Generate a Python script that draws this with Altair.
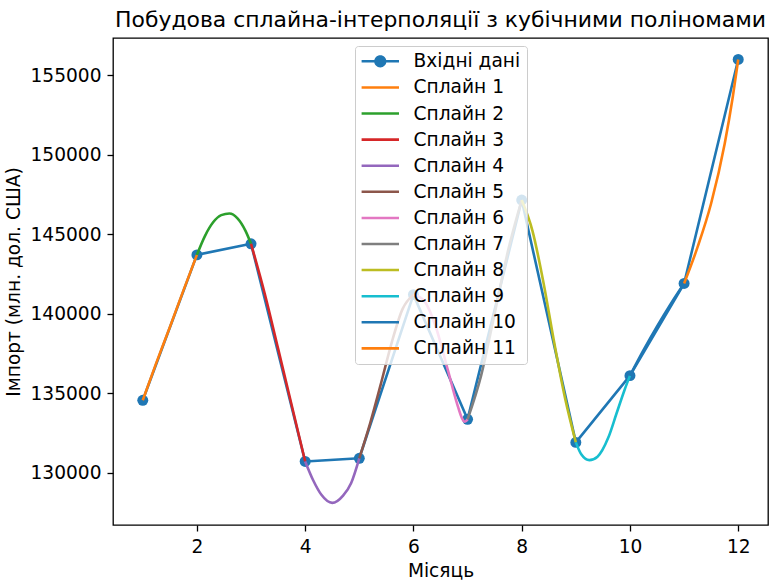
import altair as alt
import pandas as pd

# Monthly import values (input data)
months = [1, 2, 3, 4, 5, 6, 7, 8, 9, 10, 11, 12]
imports = [134550, 143700, 144400, 130700, 130900, 141200,
           133350, 147150, 131900, 136100, 141900, 156000]

# Sampled points along each cubic spline segment (one list per segment)
spline_x = [
    [1, 1.25, 1.5, 1.75, 2],
    [2, 2.15, 2.3, 2.45, 2.6, 2.75, 2.9, 3],
    [3, 3.25, 3.5, 3.75, 4],
    [4, 4.15, 4.3, 4.5, 4.7, 4.85, 5],
    [5, 5.2, 5.4, 5.6, 5.8, 6],
    [6, 6.2, 6.4, 6.64, 6.8, 6.9, 6.95, 7],
    [7, 7.25, 7.5, 7.75, 8],
    [8, 8.2, 8.4, 8.6, 8.8, 9],
    [9, 9.1, 9.25, 9.4, 9.6, 9.75, 9.9, 10],
    [10, 10.25, 10.5, 10.75, 11],
    [11, 11.25, 11.5, 11.75, 11.9, 12],
]
spline_y = [
    [134550, 136900, 139150, 141450, 143700],
    [143700, 144900, 145750, 146200, 146300, 146000, 145200, 144400],
    [144400, 141300, 137800, 134250, 130700],
    [130700, 129500, 128600, 128090, 128550, 129350, 130900],
    [130900, 133100, 135600, 138200, 140300, 141200],
    [141200, 140800, 139300, 136400, 134400, 133400, 133200, 133350],
    [133350, 136100, 140000, 144000, 147150],
    [147150, 145200, 142000, 138200, 134700, 131900],
    [131900, 131150, 130780, 131000, 132200, 133700, 135200, 136100],
    [136100, 137700, 139200, 140600, 141900],
    [141900, 144200, 146950, 150700, 153650, 156000],
]

data_color = "#1f77b4"
spline_colors = ["#ff7f0e", "#2ca02c", "#d62728", "#9467bd", "#8c564b", "#e377c2",
                 "#7f7f7f", "#bcbd22", "#17becf", "#1f77b4", "#ff7f0e"]
data_label = "Вхідні дані"
spline_labels = [f"Сплайн {i}" for i in range(1, 12)]

y_ticks = [130000, 135000, 140000, 145000, 150000, 155000]
x_ticks = [2, 4, 6, 8, 10, 12]

FONT = "DejaVu Sans"
FS = 18.6
LW = 2.6

x_enc = alt.X("month:Q",
              scale=alt.Scale(domain=[0.45, 12.55], nice=False, zero=False),
              axis=alt.Axis(values=x_ticks, format="d", title="Місяць"))
y_enc = alt.Y("value:Q",
              scale=alt.Scale(domain=[126700, 157350], nice=False, zero=False),
              axis=alt.Axis(values=y_ticks, format="d", title="Імпорт (млн. дол. США)"))

base_df = pd.DataFrame({"month": months, "value": imports})

layers = [
    alt.Chart(base_df).mark_line(color=data_color, strokeWidth=LW, strokeJoin="round")
    .encode(x=x_enc, y=y_enc),
    alt.Chart(base_df).mark_point(filled=True, color=data_color, size=120, opacity=1)
    .encode(x=x_enc, y=y_enc),
]

for xs, ys, col in zip(spline_x, spline_y, spline_colors):
    seg = pd.DataFrame({"month": xs, "value": ys})
    layers.append(
        alt.Chart(seg).mark_line(color=col, strokeWidth=LW, interpolate="monotone",
                                 strokeJoin="round")
        .encode(x=x_enc, y=y_enc)
    )

# Legend: line-with-marker symbol for the data, plain line symbols for the splines
line_sym = "M-2.2,-0.15H2.2V0.15H-2.2Z"
dot_sym = ("M-2.2,-0.15H2.2V0.15H-2.2Z "
           "M0.72,0A0.72,0.72 0 1 1 -0.72,0A0.72,0.72 0 1 1 0.72,0Z")
legend_names = [data_label] + spline_labels
legend_colors = [data_color] + spline_colors
legend_shapes = [dot_sym] + [line_sym] * len(spline_labels)

legend_spec = alt.Legend(
    title=None, orient="none", legendX=242, legendY=8,
    labelFont=FONT, labelFontSize=FS, labelColor="black",
    fillColor="rgba(255,255,255,0.8)", strokeColor="#cccccc",
    padding=6, rowPadding=7.1,
    symbolSize=289, symbolOffset=10, labelOffset=24, symbolStrokeWidth=0,
    symbolOpacity=1,
)

legend_df = pd.DataFrame({"label": legend_names})
legend_layer = (
    alt.Chart(legend_df)
    .transform_filter("false")
    .mark_point(filled=True, size=289, opacity=1)
    .encode(
        color=alt.Color("label:N", scale=alt.Scale(domain=legend_names, range=legend_colors),
                        legend=legend_spec),
        shape=alt.Shape("label:N", scale=alt.Scale(domain=legend_names, range=legend_shapes),
                        legend=legend_spec),
    )
)
layers.append(legend_layer)

chart = (
    alt.layer(*layers)
    .properties(
        width=655, height=487,
        autosize=alt.AutoSizeParams(type="none"),
        padding={"left": 113, "top": 38, "right": 3, "bottom": 56},
        title=alt.TitleParams(
            "Побудова сплайна-інтерполяції з кубічними поліномами",
            font=FONT, fontSize=21.9, fontWeight="normal", color="black",
            anchor="middle", baseline="alphabetic", offset=-11,
        ),
    )
    .configure_view(stroke="black", strokeWidth=1.3)
    .configure_axis(
        grid=False, domain=False,
        labelFont=FONT, labelFontSize=FS, labelColor="black", labelPadding=6,
        tickColor="black", tickSize=6, tickWidth=1.3,
        titleFont=FONT, titleFontSize=FS, titleFontWeight="normal", titleColor="black",
    )
    .configure_axisX(titlePadding=6)
    .configure_axisY(titlePadding=7)
    .configure_legend(cornerRadius=3, strokeWidth=1)
)

chart.save("out.html", embed_options={"renderer": "svg", "actions": False})
